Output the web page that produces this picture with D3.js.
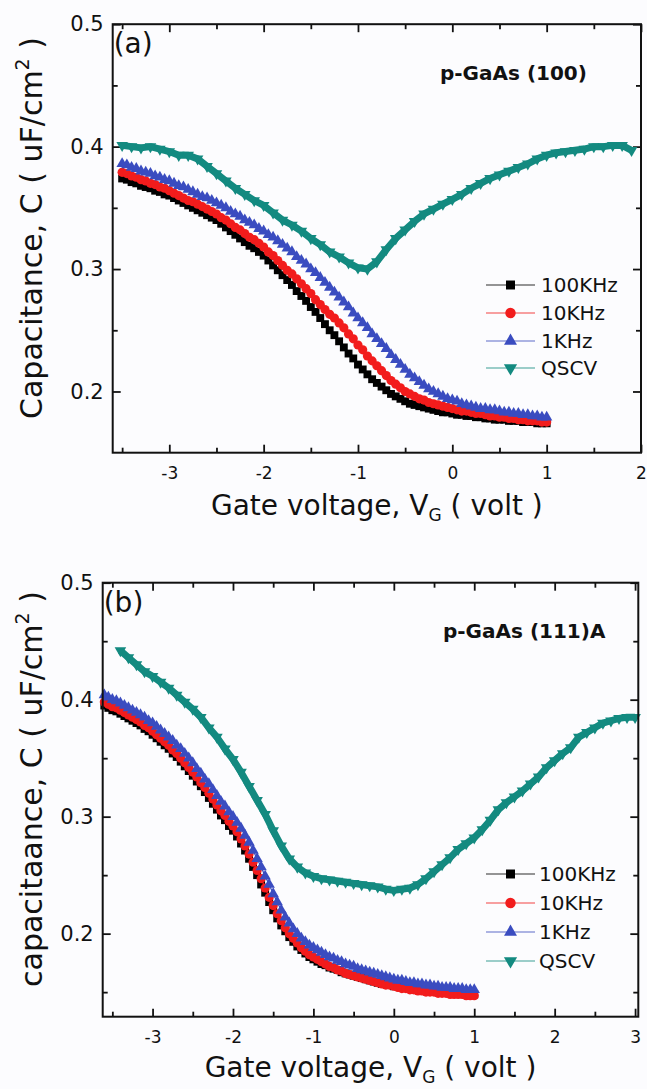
<!DOCTYPE html>
<html lang="en">
<meta charset="UTF-8">
<title>C-V curves of p-GaAs</title>
<script src="https://d3js.org/d3.v7.min.js"></script>
<style>
body { margin: 0; background: #fcfcfe; }
svg { display: block; font-family: "DejaVu Sans", sans-serif; }
.tick line { stroke: #111; stroke-width: 1.8; }
</style>
<body>
<div id="chart"></div>
<script>
// ---- data ----
const seriesNames = ["100KHz", "10KHz", "1KHz", "QSCV"];
const seriesColors = ["#000000", "#f21c1c", "#3a4cc0", "#138a80"];
const freqStep = 0.05;   // gate sweep step of the frequency curves (V)
const qscvStep = 0.1;

// panel (a): p-GaAs (100), frequency curves from -3.5 V to 1.0 V
const aFreqStart = -3.5;
const a100k = [
  .374,.373,.371,.370,.368,.367,.366,.364,.363,.361,
  .360,.358,.356,.354,.352,.350,.348,.346,.344,.342,
  .340,.337,.334,.331,.328,.325,.322,.319,.317,.314,
  .311,.307,.303,.299,.295,.291,.287,.282,.278,.274,
  .269,.265,.260,.255,.250,.246,.241,.236,.231,.227,
  .222,.218,.214,.210,.207,.204,.201,.198,.196,.194,
  .192,.190,.189,.188,.187,.186,.185,.184,.183,.183,
  .182,.181,.181,.180,.180,.179,.179,.178,.178,.177,
  .177,.177,.176,.176,.176,.175,.175,.175,.174,.174,
  .174];
const a10k = [
  .379,.378,.376,.375,.373,.372,.370,.369,.367,.366,
  .364,.362,.360,.358,.356,.355,.353,.351,.349,.347,
  .345,.342,.340,.337,.334,.332,.329,.326,.324,.321,
  .318,.314,.311,.307,.303,.299,.296,.292,.288,.284,
  .280,.275,.271,.267,.263,.260,.256,.252,.247,.243,
  .238,.234,.229,.225,.221,.217,.213,.209,.206,.203,
  .200,.198,.196,.194,.193,.191,.190,.189,.188,.187,
  .186,.185,.184,.184,.183,.182,.182,.181,.180,.180,
  .179,.179,.178,.178,.177,.177,.176,.176,.176,.175,
  .175];
const a1k = [
  .386,.385,.383,.382,.380,.379,.378,.376,.375,.373,
  .372,.370,.368,.367,.365,.363,.361,.359,.358,.356,
  .354,.352,.350,.347,.345,.343,.340,.338,.336,.333,
  .331,.328,.326,.323,.320,.317,.314,.310,.307,.304,
  .300,.297,.293,.289,.285,.281,.277,.273,.269,.264,
  .260,.256,.252,.247,.243,.239,.235,.230,.226,.222,
  .218,.214,.211,.208,.205,.202,.200,.198,.196,.194,
  .193,.192,.190,.189,.188,.187,.186,.186,.185,.185,
  .184,.183,.183,.182,.182,.181,.181,.180,.180,.179,
  .179];
// QSCV from -3.5 V to 1.9 V
const aQscvStart = -3.5;
const aQscv = [
  .401,.400,.399,.400,.398,.396,.393,.393,.390,.384,
  .378,.372,.366,.361,.356,.352,.346,.340,.336,.331,
  .325,.320,.314,.310,.305,.301,.300,.306,.316,.325,
  .332,.339,.345,.349,.353,.357,.361,.366,.370,.374,
  .377,.380,.383,.386,.390,.393,.395,.396,.397,.398,
  .400,.400,.401,.401,.397];

// panel (b): p-GaAs (111)A, frequency curves from -3.6 V to 1.0 V
const bFreqStart = -3.6;
const b100k = [
  .395,.393,.391,.390,.388,.386,.384,.382,.380,.378,
  .375,.373,.370,.367,.364,.361,.358,.354,.351,.347,
  .343,.339,.335,.330,.326,.321,.316,.311,.306,.301,
  .297,.292,.288,.283,.277,.271,.264,.257,.250,.242,
  .235,.227,.220,.213,.207,.202,.197,.193,.189,.186,
  .183,.180,.178,.176,.174,.173,.171,.170,.169,.167,
  .166,.165,.164,.163,.162,.161,.160,.159,.158,.157,
  .157,.156,.155,.155,.154,.154,.153,.153,.152,.152,
  .151,.151,.151,.150,.150,.150,.149,.149,.149,.149,
  .148,.148,.148];
const b10k = [
  .398,.396,.394,.393,.391,.389,.387,.385,.383,.381,
  .378,.376,.373,.370,.367,.364,.361,.357,.354,.350,
  .346,.342,.338,.334,.329,.325,.320,.315,.310,.305,
  .301,.296,.292,.287,.281,.275,.268,.261,.254,.247,
  .239,.231,.224,.217,.211,.205,.200,.196,.192,.188,
  .185,.182,.180,.178,.176,.174,.172,.171,.169,.168,
  .166,.165,.164,.163,.162,.161,.160,.159,.158,.157,
  .156,.156,.155,.154,.153,.153,.152,.152,.151,.151,
  .150,.150,.150,.149,.149,.149,.148,.148,.148,.148,
  .147,.147,.147];
const b1k = [
  .404,.402,.400,.399,.397,.395,.393,.391,.389,.387,
  .385,.382,.380,.377,.374,.371,.368,.365,.361,.358,
  .354,.350,.346,.341,.337,.332,.328,.323,.318,.313,
  .309,.304,.300,.295,.290,.284,.278,.271,.264,.257,
  .249,.242,.234,.227,.220,.214,.209,.204,.200,.196,
  .193,.190,.188,.186,.184,.182,.180,.179,.177,.176,
  .174,.173,.172,.170,.169,.168,.167,.166,.165,.164,
  .163,.162,.161,.160,.160,.159,.158,.158,.157,.157,
  .156,.156,.155,.155,.154,.154,.154,.153,.153,.153,
  .152,.152,.152];
// QSCV from -3.4 V to 3.0 V
const bQscvStart = -3.4;
const bQscv = [
  .442,.436,.430,.424,.420,.415,.410,.404,.398,.392,
  .385,.376,.368,.358,.349,.338,.326,.314,.302,.288,
  .275,.264,.257,.252,.249,.247,.246,.245,.244,.243,
  .242,.241,.240,.238,.237,.238,.239,.242,.247,.253,
  .259,.265,.272,.277,.282,.289,.297,.306,.312,.317,
  .322,.328,.334,.342,.348,.354,.359,.368,.372,.376,
  .380,.382,.384,.385,.385];

// ---- page ----
const W = 647, H = 1089;
const svg = d3.select("#chart").append("svg")
  .attr("width", W).attr("height", H);
svg.append("rect").attr("width", W).attr("height", H).attr("fill", "#fcfcfe");

const symbols = [
  {type: d3.symbolSquare, size: 62, rot: 0},
  {type: d3.symbolCircle, size: 66, rot: 0},
  {type: d3.symbolTriangle, size: 56, rot: 0},
  {type: d3.symbolTriangle, size: 58, rot: 180}
];

function drawPanel(p) {
  const x = d3.scaleLinear().domain(p.xDomain).range([p.left, p.right]);
  const y = d3.scaleLinear().domain(p.yDomain).range([p.bottom, p.top]);
  const g = svg.append("g");

  const xMajor = d3.range(Math.ceil(p.xDomain[0]), Math.floor(p.xDomain[1]) + 0.01, 1);
  const xMinor = xMajor.map(d => d - 0.5).filter(d => d > p.xDomain[0]);
  const yMajor = [0.2, 0.3, 0.4, 0.5];
  const yMinor = [0.15, 0.25, 0.35, 0.45].filter(d => d > p.yDomain[0]);

  function ax(axis, transform) {
    const a = g.append("g").attr("transform", transform).call(axis);
    a.select(".domain").remove();
    return a;
  }
  // bottom
  ax(d3.axisBottom(x).tickValues(xMajor).tickSize(-8).tickSizeOuter(0)
      .tickPadding(14).tickFormat(d => String(d)), `translate(0,${p.bottom})`)
    .selectAll("text").attr("font-size", 17).attr("fill", "#111")
    .attr("font-family", "DejaVu Sans");
  ax(d3.axisBottom(x).tickValues(xMinor).tickSize(-5).tickFormat(""), `translate(0,${p.bottom})`);
  // top
  ax(d3.axisTop(x).tickValues(xMajor).tickSize(-8).tickFormat(""), `translate(0,${p.top})`);
  ax(d3.axisTop(x).tickValues(xMinor).tickSize(-5).tickFormat(""), `translate(0,${p.top})`);
  // left
  ax(d3.axisLeft(y).tickValues(yMajor).tickSize(-8).tickPadding(9)
      .tickFormat(d3.format(".1f")), `translate(${p.left},0)`)
    .selectAll("text").attr("font-size", 21).attr("fill", "#111")
    .attr("font-family", "DejaVu Sans");
  ax(d3.axisLeft(y).tickValues(yMinor).tickSize(-5).tickFormat(""), `translate(${p.left},0)`);
  // right
  ax(d3.axisRight(y).tickValues(yMajor).tickSize(-8).tickFormat(""), `translate(${p.right},0)`);
  ax(d3.axisRight(y).tickValues(yMinor).tickSize(-5).tickFormat(""), `translate(${p.right},0)`);

  // series
  p.series.forEach((s, k) => {
    const pts = s.values.map((v, i) => [s.start + i * s.step, v]);
    const line = d3.line().x(d => x(d[0])).y(d => y(d[1]));
    g.append("path").datum(pts)
      .attr("fill", "none")
      .attr("stroke", seriesColors[k])
      .attr("stroke-width", k === 3 ? 7 : 1.2)
      .attr("stroke-linejoin", "round")
      .attr("d", line);
    const sym = d3.symbol().type(symbols[k].type).size(symbols[k].size)();
    g.append("g").selectAll("path").data(pts).join("path")
      .attr("d", sym)
      .attr("fill", seriesColors[k])
      .attr("transform", d => `translate(${x(d[0])},${y(d[1])}) rotate(${symbols[k].rot})`);
  });

  // frame
  g.append("rect")
    .attr("x", p.left).attr("y", p.top)
    .attr("width", p.right - p.left).attr("height", p.bottom - p.top)
    .attr("fill", "none").attr("stroke", "#111").attr("stroke-width", 2);

  // legend
  seriesNames.forEach((name, k) => {
    const ly = p.legendRows[k];
    g.append("line")
      .attr("x1", p.legendX[0]).attr("x2", p.legendX[1])
      .attr("y1", ly).attr("y2", ly)
      .attr("stroke", seriesColors[k]).attr("stroke-opacity", 0.55)
      .attr("stroke-width", 1.6);
    const sym = d3.symbol().type(symbols[k].type).size(symbols[k].size * 1.3)();
    g.append("path").attr("d", sym).attr("fill", seriesColors[k])
      .attr("transform", `translate(${(p.legendX[0] + p.legendX[1]) / 2},${ly}) rotate(${symbols[k].rot})`);
    g.append("text")
      .attr("x", p.legendText).attr("y", ly).attr("dy", "0.36em")
      .attr("font-size", 20).attr("fill", "#111")
      .text(name);
  });

  // panel label and sample name
  g.append("text").attr("x", p.left + 1).attr("y", p.top + 29)
    .attr("font-size", 28).attr("fill", "#111").text(p.label);
  g.append("text").attr("x", p.sampleX).attr("y", p.top + 55.5)
    .attr("font-size", 20).attr("font-weight", "bold").attr("fill", "#111")
    .text(p.sample);

  // x title
  const xt = g.append("text")
    .attr("x", (p.left + p.right) / 2).attr("y", p.xTitleY)
    .attr("text-anchor", "middle").attr("font-size", 28).attr("fill", "#111");
  xt.append("tspan").text("Gate voltage, V");
  xt.append("tspan").attr("font-size", 17).attr("dy", 6).text("G");
  xt.append("tspan").attr("dy", -6).text(" ( volt )");

  // y title
  const yt = g.append("text")
    .attr("transform", `translate(42,${p.yTitleY}) rotate(-90)`)
    .attr("text-anchor", "middle").attr("font-size", 30).attr("fill", "#111");
  yt.append("tspan").text(p.yTitle + ", C ( uF/cm");
  yt.append("tspan").attr("font-size", 19).attr("dy", -13).text("2");
  yt.append("tspan").attr("dy", 13).text(" )");
}

drawPanel({
  left: 112.7, right: 641, top: 24.2, bottom: 452.7,
  xDomain: [-3.6, 2], yDomain: [0.15, 0.5],
  series: [
    {values: a100k, start: aFreqStart, step: freqStep},
    {values: a10k, start: aFreqStart, step: freqStep},
    {values: a1k, start: aFreqStart, step: freqStep},
    {values: aQscv, start: aQscvStart, step: qscvStep}
  ],
  legendRows: [285, 313, 341, 368], legendX: [486, 535], legendText: 541,
  label: "(a)", sample: "p-GaAs (100)", sampleX: 440,
  xTitleY: 515, yTitle: "Capacitance", yTitleY: 228
});

drawPanel({
  left: 102.7, right: 638.3, top: 582.7, bottom: 1016.7,
  xDomain: [-3.62, 3.04], yDomain: [0.129, 0.5],
  series: [
    {values: b100k, start: bFreqStart, step: freqStep},
    {values: b10k, start: bFreqStart, step: freqStep},
    {values: b1k, start: bFreqStart, step: freqStep},
    {values: bQscv, start: bQscvStart, step: qscvStep}
  ],
  legendRows: [874, 903, 932, 961], legendX: [486, 535], legendText: 539,
  label: "(b)", sample: "p-GaAs (111)A", sampleX: 443,
  xTitleY: 1077, yTitle: "capacitaance", yTitleY: 789
});
</script>
</body>
</html>
